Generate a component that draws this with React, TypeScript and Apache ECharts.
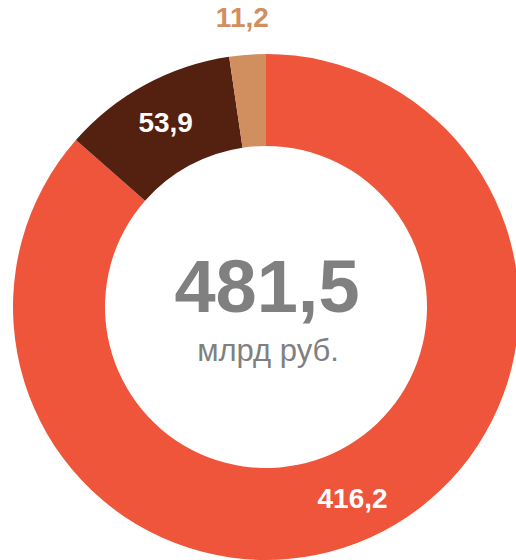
import React, { useEffect, useRef } from "react";
import * as echarts from "echarts";

const categories = ["A", "B", "C"];
const values = [416.2, 53.9, 11.2];
const colors = ["#EE553A", "#542010", "#D18E5E"];
const totalLabel = "481,5";
const unitLabel = "млрд руб.";

const FONT = "'Liberation Sans', Arial, sans-serif";

export default function App() {
  const ref = useRef<HTMLDivElement>(null);
  useEffect(() => {
    document.body.style.margin = "0";
    const chart = echarts.init(ref.current!, null, { renderer: "svg" });
    const data = categories.map((name, i) => {
      const item: any = { name, value: values[i], itemStyle: { color: colors[i] } };
      if (i === 2) {
        item.label = {
          position: "outside",
          color: colors[2],
          distanceToLabelLine: -24,
        };
        item.labelLine = { show: false, length: 37, length2: 0 };
      }
      return item;
    });
    chart.setOption({
      animation: false,
      backgroundColor: "#ffffff",
      series: [
        {
          type: "pie",
          center: [266, 307],
          radius: [161, 253],
          startAngle: 90,
          clockwise: true,
          avoidLabelOverlap: false,
          silent: true,
          label: {
            show: true,
            position: "inside",
            color: "#ffffff",
            fontFamily: FONT,
            fontWeight: "bold",
            fontSize: 28,
            formatter: (p: any) => String(p.value).replace(".", ","),
          },
          labelLine: { show: false },
          data,
        },
      ],
      graphic: [
        {
          type: "text",
          x: 267,
          y: 286,
          style: {
            text: totalLabel,
            fill: "#808080",
            font: `bold 74px ${FONT}`,
            align: "center",
            verticalAlign: "middle",
          },
        },
        {
          type: "text",
          x: 268,
          y: 350,
          style: {
            text: unitLabel,
            fill: "#808080",
            font: `31px ${FONT}`,
            align: "center",
            verticalAlign: "middle",
          },
        },
      ],
    });
    return () => chart.dispose();
  }, []);
  return <div ref={ref} style={{ width: 516, height: 560 }} />;
}
